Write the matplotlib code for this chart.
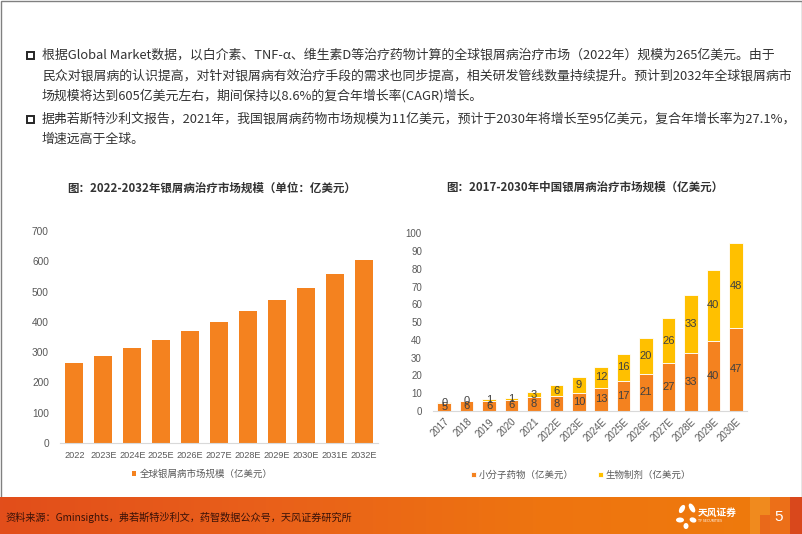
import matplotlib
matplotlib.use('Agg')
import matplotlib.pyplot as plt
import numpy as np
from matplotlib.patches import Rectangle, Ellipse
from matplotlib.colors import LinearSegmentedColormap

plt.rcParams['font.family'] = ['Noto Sans CJK SC', 'DejaVu Sans']

# chart 1: global market, 100m USD
years_global = ['2022', '2023E', '2024E', '2025E', '2026E', '2027E',
                '2028E', '2029E', '2030E', '2031E', '2032E']
market_global = [265, 288, 313, 340, 369, 401, 435, 473, 513, 558, 605]

# chart 2: China market, 100m USD
years_cn = ['2017', '2018', '2019', '2020', '2021', '2022E', '2023E',
            '2024E', '2025E', '2026E', '2027E', '2028E', '2029E', '2030E']
small_molecule = [4.6, 5.5, 5.8, 6.2, 7.6, 8.2, 10.3, 13.2, 16.7, 21.0, 26.8, 32.7, 39.6, 46.8]
biologics = [0.3, 0.4, 1.0, 1.1, 3.2, 6.4, 8.8, 11.7, 15.6, 19.9, 25.7, 32.6, 39.6, 47.6]

body_lines = [
    ('根据Global Market数据，以白介素、TNF-α、维生素D等治疗药物计算的全球银屑病治疗市场（2022年）规模为265亿美元。由于', True),
    ('民众对银屑病的认识提高，对针对银屑病有效治疗手段的需求也同步提高，相关研发管线数量持续提升。预计到2032年全球银屑病市', False),
    ('场规模将达到605亿美元左右，期间保持以8.6%的复合年增长率(CAGR)增长。', False),
    ('据弗若斯特沙利文报告，2021年，我国银屑病药物市场规模为11亿美元，预计于2030年将增长至95亿美元，复合年增长率为27.1%，', True),
    ('增速远高于全球。', False),
]

ORANGE = '#F4821F'
YELLOW = '#FFC000'
GREY = '#595959'
W, H = 802, 534

fig = plt.figure(figsize=(W / 100, H / 100), dpi=100)

# background / decoration layer in pixel coords
bg = fig.add_axes([0, 0, 1, 1])
bg.axis('off')

# page frame
bg.add_patch(Rectangle((0.5, 0.5), W - 1, H - 1, fill=False, ec='#808080', lw=1))

# body text
ys = [55, 76, 96, 119, 139]
for (txt, bullet), y in zip(body_lines, ys):
    if bullet:
        bg.add_patch(Rectangle((27, y - 3.5), 7, 7, fill=False, ec='#262626', lw=1.4))
    bg.text(42, y, txt, fontsize=9.3, color='#333333', va='center', ha='left')

# footer band with gradient
grad = np.linspace(0, 1, 256)[None, :]
cmap = LinearSegmentedColormap.from_list('ft', ['#E24E1B', '#E9601A', '#EE7410', '#EF7B0C'])
bg.imshow(grad, cmap=cmap, extent=[0, W, H, 497], aspect='auto', zorder=1)
bg.set_xlim(0, W)
bg.set_ylim(H, 0)
bg.add_patch(Rectangle((750, 497), 20, 37, fc='#F08A1E', ec='none', zorder=2))
bg.add_patch(Rectangle((760, 515), 12, 19, fc='#E9691A', ec='none', zorder=2))
bg.add_patch(Rectangle((770, 497), 20, 37, fc='#EC6F18', ec='none', zorder=2))
bg.add_patch(Rectangle((790, 497), 12, 37, fc='#D9481C', ec='none', zorder=2))
bg.text(779, 517, '5', color='white', fontsize=11, ha='center', va='center', zorder=3,
        family=['Liberation Sans'])
bg.text(5, 517, '资料来源：Gminsights，弗若斯特沙利文，药智数据公众号，天风证券研究所',
        fontsize=7.3, color='#3a1208', style='italic', ha='left', va='center', zorder=3)
# logo
for (cx, cy, w, h, a) in [(682, 509, 5, 9, 30), (692, 508, 5, 10, -30), (680, 520, 8, 5, 0),
                          (693, 520, 7, 5, 20), (686, 526, 5, 6, 0)]:
    bg.add_patch(Ellipse((cx, cy), w, h, angle=a, fc='white', ec='none', zorder=3))
bg.text(698, 513, '天风证券', color='white', fontsize=7, fontweight='bold',
        ha='left', va='center', zorder=3)
bg.text(698, 521, 'TF SECURITIES', color='white', fontsize=2.5, ha='left', va='center', zorder=3)


def px_axes(x0, x1, ytop, ybot):
    return fig.add_axes([x0 / W, (H - ybot) / H, (x1 - x0) / W, (ybot - ytop) / H])


# ---- chart 1
ax1 = px_axes(60, 378, 231, 443)
ax1.set_facecolor('none')
x1 = np.arange(len(years_global))
ax1.bar(x1, market_global, width=0.62, color=ORANGE, label='全球银屑病市场规模（亿美元）')
ax1.set_xlim(-0.5, len(years_global) - 0.5)
ax1.set_ylim(0, 700)
ax1.set_yticks(np.arange(0, 701, 100))
ax1.set_xticks(x1)
ax1.set_xticklabels(years_global)
for s in ['top', 'right', 'left']:
    ax1.spines[s].set_visible(False)
ax1.spines['bottom'].set_color('#d9d9d9')
ax1.tick_params(length=0, labelsize=7.3, colors=GREY, pad=8)
ax1.tick_params(axis='x', labelsize=6.6, pad=6)
for lab in ax1.get_xticklabels() + ax1.get_yticklabels():
    lab.set_family(['Liberation Sans'])
ax1.legend(loc='center', bbox_to_anchor=(202 / W, (H - 474) / H), bbox_transform=fig.transFigure,
           frameon=False, fontsize=6.8, handlelength=0.5, handleheight=0.5, handletextpad=0.3,
           labelcolor=GREY)
fig.text(211.7 / W, (H - 188) / H, '图：2022-2032年银屑病治疗市场规模（单位：亿美元）',
         fontsize=8.3, fontweight='bold', color='#333333', ha='center', va='center')

# ---- chart 2
ax2 = px_axes(433, 747, 233.3, 411)
ax2.set_facecolor('none')
x2 = np.arange(len(years_cn))
b1 = ax2.bar(x2, small_molecule, width=0.61, color=ORANGE, edgecolor='white', lw=0.6,
             label='小分子药物（亿美元）')
b2 = ax2.bar(x2, biologics, width=0.61, bottom=small_molecule, color=YELLOW, edgecolor='white',
             lw=0.6, label='生物制剂（亿美元）')
ax2.bar_label(b1, fmt='%.0f', label_type='center', fontsize=8, color='#404040',
              family=['Liberation Sans'])
ax2.bar_label(b2, fmt='%.0f', label_type='center', fontsize=8, color='#404040',
              family=['Liberation Sans'])
ax2.set_xlim(-0.5, len(years_cn) - 0.5)
ax2.set_ylim(0, 100)
ax2.set_yticks(np.arange(0, 101, 10))
ax2.set_xticks(x2)
ax2.set_xticklabels(years_cn, rotation=45, ha='right', rotation_mode='anchor')
for s in ['top', 'right', 'left']:
    ax2.spines[s].set_visible(False)
ax2.spines['bottom'].set_color('#d9d9d9')
ax2.tick_params(length=0, labelsize=7, colors=GREY)
ax2.tick_params(axis='y', pad=8)
ax2.tick_params(axis='x', pad=4)
for lab in ax2.get_xticklabels() + ax2.get_yticklabels():
    lab.set_family(['Liberation Sans'])
ax2.legend(loc='center', bbox_to_anchor=(581 / W, (H - 475) / H), bbox_transform=fig.transFigure,
           ncol=2, frameon=False, fontsize=6.8, handlelength=0.5, handleheight=0.5,
           handletextpad=0.3, columnspacing=2.6, labelcolor=GREY)
fig.text(585 / W, (H - 187) / H, '图：2017-2030年中国银屑病治疗市场规模（亿美元）',
         fontsize=8.3, fontweight='bold', color='#333333', ha='center', va='center')

fig.savefig('out.png', dpi=100)
